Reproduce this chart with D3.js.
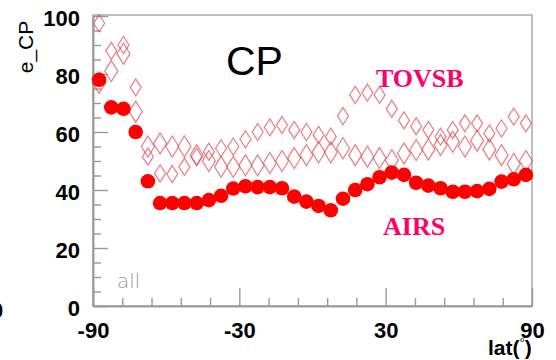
<!DOCTYPE html>
<html><head><meta charset="utf-8">
<script src="https://cdn.jsdelivr.net/npm/d3@7"></script>
<style>body{margin:0;background:#fff}svg{display:block}</style>
</head><body><svg id="c" width="556" height="360"></svg>
<script>
const lats = [-87.5,-82.5,-77.5,-72.5,-67.5,-62.5,-57.5,-52.5,-47.5,-42.5,-37.5,-32.5,-27.5,-22.5,-17.5,-12.5,-7.5,-2.5,2.5,7.5,12.5,17.5,22.5,27.5,32.5,37.5,42.5,47.5,52.5,57.5,62.5,67.5,72.5,77.5,82.5,87.5];
const airs = [78,68.5,68,60,43,35.5,35.5,35.5,35.5,36.5,38,40.5,41.3,41,41,40.6,37.7,36,34.5,33,37,40,42,44.4,46,45.2,42.5,41.5,40.6,39.4,39.4,39.6,40.4,42.9,43.7,45.2];
const tovsLarge = [77,81,87,67,55,56,55,55,52,50,48,48,48.5,48.5,49.3,50,51,52,53,53,54.4,52,51.5,51,50.3,52.6,53.8,54,55.5,56.6,55,57,54,52,49,50];
const tovsSmall = [97.5,88,90,75.4,51.5,45.7,45.5,48,51.5,53.2,54.4,55,57.5,60,61.6,62.4,60.7,60,59,58.4,65.5,72.8,73.6,72.8,68,64,62,60.7,58.4,60.7,63,63,59.5,61.2,65.3,63];
const xMajor = [-90,-30,30,90];
const xMinor = [-78,-66,-54,-42,-18,-6,6,18,42,54,66,78];
const yMajor = [0,20,40,60,80,100];
const yMinor = [5,10,15,25,30,35,45,50,55,65,70,75,85,90,95];

const svg = d3.select("#c");
const L=93, R=532, T=16, B=306;
const x = d3.scaleLinear().domain([-90,90]).range([L,R]);
const y = d3.scaleLinear().domain([0,100]).range([B,T]);
const axisCol = "#999";

svg.append("rect").attr("x",L).attr("y",T-1).attr("width",R-L).attr("height",B-T+1)
  .attr("fill","none").attr("stroke","#aaa").attr("stroke-width",1.5);

function styleAxis(g){
  g.selectAll("path").attr("stroke",axisCol).attr("stroke-width",1.6);
  g.selectAll("line").attr("stroke",axisCol).attr("stroke-width",1.4);
  g.selectAll("text").attr("fill","#000").attr("font-family","Liberation Sans, Arial, sans-serif")
   .attr("font-weight","bold").attr("font-size",22);
}
const yAx = svg.append("g").attr("transform",`translate(${L},0)`)
  .call(d3.axisLeft(y).tickValues(yMajor).tickSize(-15).tickPadding(13).tickSizeOuter(0).tickFormat(d=>String(d)));
styleAxis(yAx);
yAx.selectAll("text").attr("dy","0.42em");
const yAxm = svg.append("g").attr("transform",`translate(${L},0)`)
  .call(d3.axisLeft(y).tickValues(yMinor).tickSize(-8).tickFormat("").tickSizeOuter(0));
styleAxis(yAxm);

const xAx = svg.append("g").attr("transform",`translate(0,${B})`)
  .call(d3.axisBottom(x).tickValues(xMajor).tickSize(-18).tickPadding(16).tickFormat(d=>String(d)).tickSizeOuter(0));
styleAxis(xAx);
const xAxm = svg.append("g").attr("transform",`translate(0,${B})`)
  .call(d3.axisBottom(x).tickValues(xMinor).tickSize(-8).tickFormat("").tickSizeOuter(0));
styleAxis(xAxm);

function diamond(w,h){ return `M0,${-h}L${w},0L0,${h}L${-w},0Z`; }
const dcol = "#e0505e";
svg.append("g").selectAll("path").data(lats).join("path")
  .attr("d",diamond(6.5,10.5)).attr("transform",(d,i)=>`translate(${x(d)},${y(tovsLarge[i])})`)
  .attr("fill","none").attr("stroke",dcol).attr("stroke-width",1.3).attr("stroke-opacity",0.7);
svg.append("g").selectAll("path").data(lats).join("path")
  .attr("d",diamond(5.5,8.5)).attr("transform",(d,i)=>`translate(${x(d)},${y(tovsSmall[i])})`)
  .attr("fill","none").attr("stroke",dcol).attr("stroke-width",1.3).attr("stroke-opacity",0.7);

svg.append("g").selectAll("circle").data(lats).join("circle")
  .attr("cx",d=>x(d)).attr("cy",(d,i)=>y(airs[i])).attr("r",7.3)
  .attr("fill","#ff0000");

svg.append("text").attr("x",226).attr("y",75).text("CP")
  .attr("font-family","Liberation Sans, Arial, sans-serif").attr("font-size",41).attr("fill","#000");
svg.append("text").attr("x",376).attr("y",87).text("TOVSB")
  .attr("font-family","Liberation Serif, Times New Roman, serif").attr("font-weight","bold")
  .attr("font-size",26).attr("fill","#ff0066");
svg.append("text").attr("x",383).attr("y",235).text("AIRS")
  .attr("font-family","Liberation Serif, Times New Roman, serif").attr("font-weight","bold")
  .attr("font-size",26).attr("fill","#ff0066");
svg.append("text").attr("x",117).attr("y",288).text("all")
  .attr("font-family","DejaVu Sans, sans-serif").attr("font-weight",200)
  .attr("font-size",20).attr("fill","#999");
svg.append("text").attr("transform","translate(33,47) rotate(-90)").attr("text-anchor","middle")
  .text("e_CP").attr("font-family","Liberation Sans, Arial, sans-serif")
  .attr("font-size",21).attr("fill","#000");
const lt = svg.append("text").attr("x",488).attr("y",355)
  .attr("font-family","Liberation Sans, Arial, sans-serif").attr("font-weight","bold")
  .attr("font-size",21).attr("fill","#000");
lt.append("tspan").text("lat(");
lt.append("tspan").text("°").attr("font-size",13).attr("dy",-8).attr("font-weight","normal");
lt.append("tspan").text(")").attr("dy",8);
svg.append("text").attr("x",-9).attr("y",318).text("0")
  .attr("font-family","Liberation Sans, Arial, sans-serif").attr("font-weight","bold")
  .attr("font-size",22).attr("fill","#000");
</script></body></html>
